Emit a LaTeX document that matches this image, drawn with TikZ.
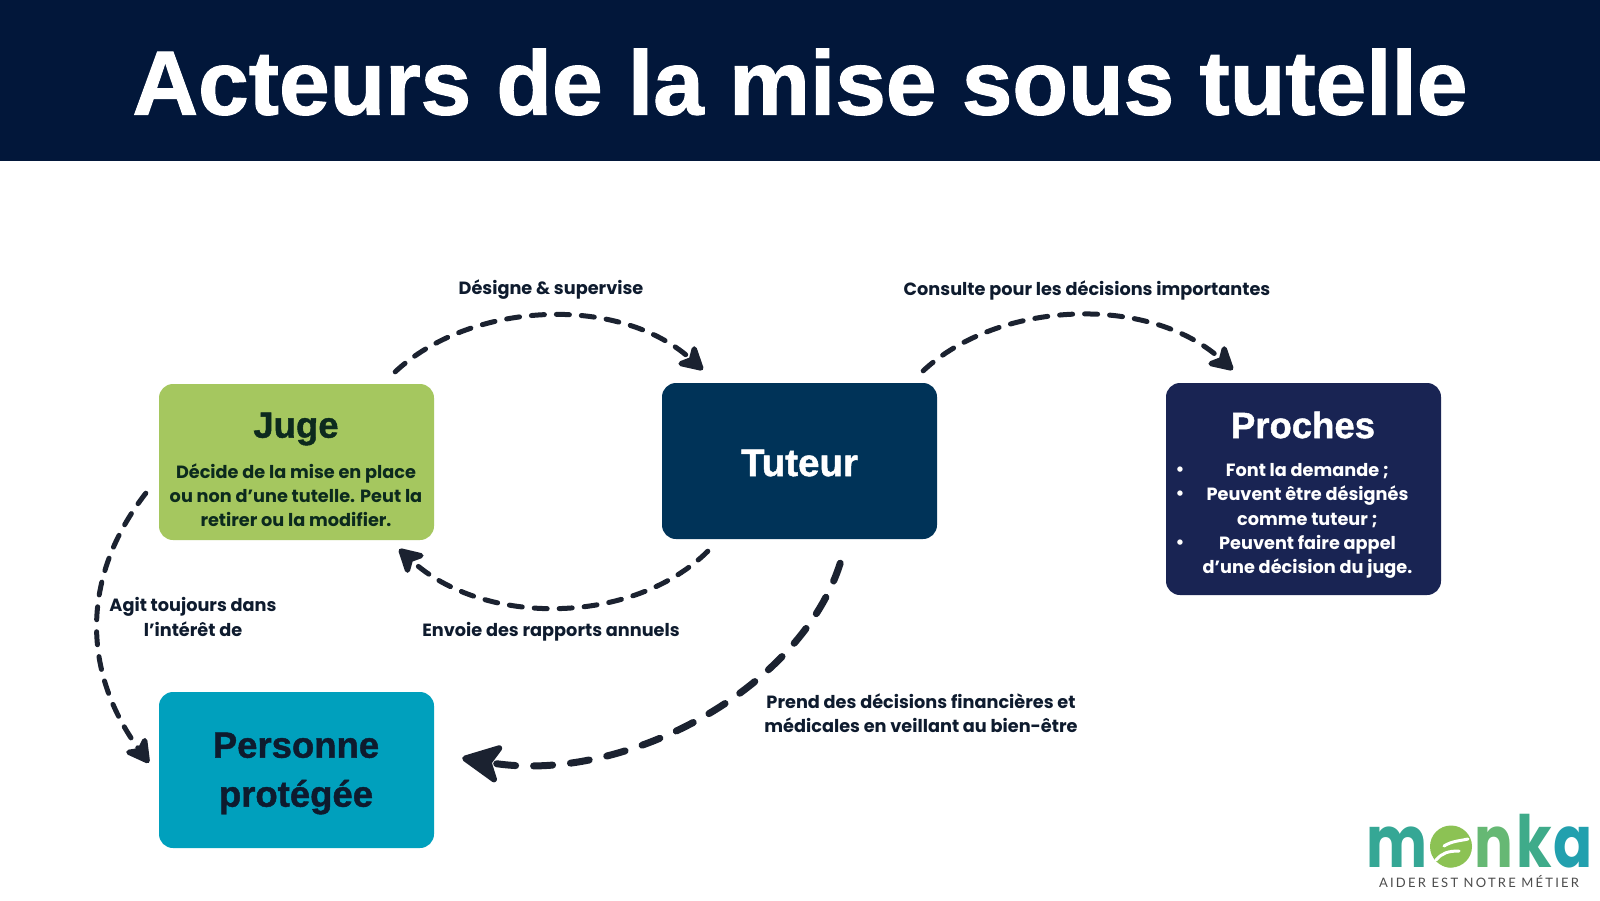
\documentclass[tikz,border=0pt]{standalone}
\usepackage{fontspec}
\usetikzlibrary{arrows.meta,calc}
\setmainfont{Liberation Sans}
\newfontfamily\pop{Poppins}
\newfontfamily\hdfont[BoldFeatures={FakeBold=1.2}]{Liberation Sans}
\newfontfamily\tagfont[LetterSpace=17]{Lato}
\definecolor{bar}{HTML}{02173A}
\definecolor{ink}{HTML}{0E1B2E}
\definecolor{arrowink}{HTML}{1B2230}
\definecolor{jugec}{HTML}{A5C75F}
\definecolor{tuteurc}{HTML}{003358}
\definecolor{prochesc}{HTML}{192453}
\definecolor{persc}{HTML}{00A0BD}
\definecolor{jugeink}{HTML}{0C2A1E}
\tikzset{
 card/.style={rounded corners=14pt,inner sep=0pt,minimum width=275pt,draw=none},
 cardtitle/.style={font=\hdfont\fontsize{36.5}{49}\selectfont\bfseries,align=center,inner sep=0pt},
 lab/.style={font=\pop\fontsize{17.7}{24.2}\selectfont\bfseries,text=ink,align=center,inner sep=0pt},
 flow/.style={draw=arrowink,line width=5pt,dash pattern=on 13pt off 12pt,line cap=round,
   -{Stealth[round,length=29pt,width=32pt,inset=8pt,line width=6pt]}},
 bigflow/.style={draw=arrowink,line width=7pt,dash pattern=on 19pt off 18pt,line cap=round,
   -{Stealth[round,length=45pt,width=44pt,inset=11pt,line width=6pt]}},
 logol/.style={font=\pop\fontsize{72}{72}\selectfont\bfseries,inner sep=0pt,xscale=0.8,anchor=base},
}
\begin{document}
\begin{tikzpicture}[x=1pt,y=-1pt]
\useasboundingbox (0,0) rectangle (1600,900);
\fill[white] (0,0) rectangle (1600,900);
\node[fill=bar,minimum width=1600pt,minimum height=161pt,inner sep=0pt,anchor=north west] (banner) at (0,0) {};
\node[text=white,inner sep=0pt,font=\hdfont\fontsize{91}{100}\selectfont\bfseries] (title) at (800,82) {Acteurs de la mise sous tutelle};

\node[card,fill=jugec,minimum height=156pt] (juge) at (296.5,462) {};
\node[card,fill=tuteurc,minimum height=156pt] (tuteur) at (799.5,461) {};
\node[card,fill=prochesc,minimum height=212pt] (proches) at (1303.5,489) {};
\node[card,fill=persc,minimum height=156pt] (pers) at (296.5,770) {};

\node[cardtitle,text=jugeink] (jugeT) at (296,429) {Juge};
\node[lab,text=jugeink] (jugeB) at (296,495) {Décide de la mise en place\\ou non d’une tutelle. Peut la\\retirer ou la modifier.};
\node[cardtitle,text=white,font=\hdfont\fontsize{38.5}{49}\selectfont\bfseries] (tuteurT) at (799.5,463) {Tuteur};
\node[cardtitle,text=white] (prochesT) at (1303,425) {Proches};
\node[lab,text=white] (prochesB) at (1307.5,521) {Font la demande ;\\Peuvent être désignés\\comme tuteur ;\\Peuvent faire appel\\d’une décision du juge.};
\node[lab,text=white] (b1) at (1180,471) {•};
\node[lab,text=white] (b2) at (1180,495.5) {•};
\node[lab,text=white] (b3) at (1180,544.5) {•};
\node[cardtitle,text=ink] (persT) at (296,773.5) {Personne\\protégée};

\node[lab] (l1) at (551,290) {Désigne \& supervise};
\node[lab] (l2) at (1087,290) {Consulte pour les décisions importantes};
\node[lab] (l3) at (551,632) {Envoie des rapports annuels};
\node[lab] (l4) at (193,617) {Agit toujours dans\\l’intérêt de};
\node[lab] (l5) at (921,713) {Prend des décisions financières et\\médicales en veillant au bien-être};

\coordinate (a1s) at ($(juge.north east)+(-39,-12)$);
\coordinate (a1e) at ($(tuteur.north west)+(41,-13)$);
\coordinate (a2s) at ($(tuteur.north east)+(-14,-12)$);
\coordinate (a2e) at ($(proches.north west)+(67,-13)$);
\coordinate (a3s) at ($(tuteur.south west)+(46,12)$);
\coordinate (a3e) at ($(juge.south east)+(-35,9)$);
\coordinate (a4s) at ($(juge.south west)+(-13,-47)$);
\coordinate (a4e) at ($(pers.north west)+(-10,71)$);
\coordinate (a5s) at ($(tuteur.south east)+(-97,24)$);
\coordinate (a5e) at ($(pers.east)+(28,-12)$);

\draw[flow] (a1s) .. controls +(75,-70) and +(-85,-76) .. (a1e);
\draw[flow] (a2s) .. controls +(75,-70) and +(-85,-76) .. (a2e);
\draw[flow] (a3s) .. controls +(-75,74) and +(85,78) .. (a3e);
\draw[flow] (a4s) .. controls +(-66,85) and +(-66,-90) .. (a4e);
\draw[bigflow] (a5s) .. controls +(-40,127) and +(160,27) .. (a5e);

% logo
\definecolor{lm}{HTML}{35A795}\definecolor{lo}{HTML}{8CC254}\definecolor{ln}{HTML}{66B874}
\definecolor{lk}{HTML}{3FAB8A}\definecolor{la}{HTML}{22A0AE}
\node[logol,text=lm] (lgm) at (1397,867) {m};
\node[logol,text=lo] (lgo) at (1451,867) {o};
\fill[lo] (1451,846.5) circle (21);
\draw[white,line width=3pt,line cap=round] (1436,860) .. controls (1442,853) and (1448,851) .. (1459,851);
\draw[white,line width=3pt,line cap=round] (1444,846) .. controls (1452,841) and (1459,841) .. (1468,839);
\node[logol,text=ln] (lgn) at (1494,867) {n};
\node[logol,text=lk] (lgk) at (1534,867) {k};
\node[logol,text=la] (lga) at (1573,867) {a};
\node[font=\tagfont\fontsize{13}{15}\selectfont,text=black!70,inner sep=0pt] (tag) at (1479,882) {AIDER EST NOTRE MÉTIER};
\end{tikzpicture}
\end{document}
